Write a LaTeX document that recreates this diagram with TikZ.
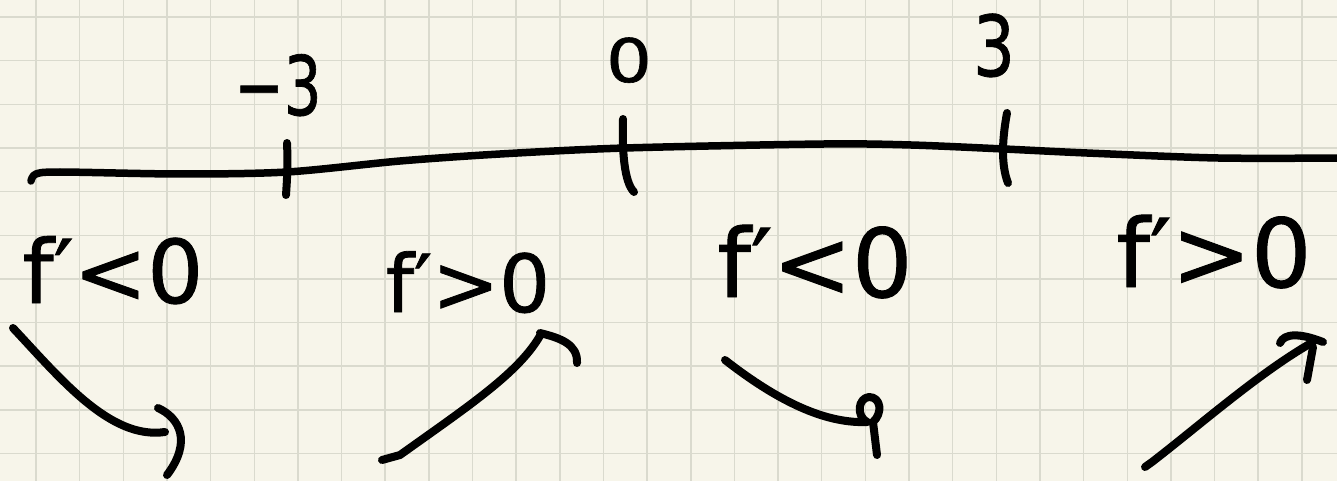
\documentclass[tikz,border=0pt]{standalone}
\usepackage{fontspec}
\setmainfont{DejaVu Sans}
\newfontfamily\handfont{DejaVu Sans}[FakeBold=1]
\definecolor{paper}{RGB}{247,245,234}
\definecolor{gridc}{RGB}{218,218,206}
\begin{document}
\begin{tikzpicture}[x=1pt,y=-1pt,
  gridline/.style={draw=gridc,line width=1.5pt},
  ink/.style={draw=black,line width=8pt,line cap=round,line join=round},
  axisline/.style={ink,line width=7.5pt},
  lbl/.style={inner sep=0pt,anchor=base,text=black}]
\fill[paper] (0,0) rectangle (1337,481);
\useasboundingbox (0,0) rectangle (1337,481);
\foreach \i in {0,...,29} \draw[gridline] ({36+43.65*\i},0) -- ({36+43.65*\i},481);
\foreach \j in {0,...,10} \draw[gridline] (0,{17+43.65*\j}) -- (1337,{17+43.65*\j});
% number line
\draw[axisline] plot[smooth,tension=0.5] coordinates {(31,181) (36,174) (60,172) (180,174) (287,172) (400,161) (500,154) (625,148) (824,144) (911,145) (1004,149) (1087,153) (1218,158) (1340,158)};
% ticks
\draw[ink] (287,143) .. controls (288,165) and (287,180) .. (286,195);
\draw[ink] (623,119) .. controls (622,150) and (624,182) .. (634,192);
\draw[ink] (1007,113) .. controls (1002,140) and (1001,165) .. (1008,183);
% tick labels
\node[lbl,font=\handfont\fontsize{82}{86}\selectfont,xscale=0.72] (m3) at (278,115) {−3};
\node[lbl,font=\handfont\fontsize{60}{64}\selectfont,xscale=1.2] (z0) at (629,82) {0};
\node[lbl,font=\handfont\fontsize{84}{88}\selectfont,xscale=0.78] (p3) at (994,76) {3};
% sign labels
\node[lbl,font=\handfont\fontsize{88}{94}\selectfont] (l1) at (113,303) {f′<0};
\node[lbl,font=\handfont\fontsize{80}{84}\selectfont] (l2) at (468,312) {f′>0};
\node[lbl,font=\handfont\fontsize{95}{100}\selectfont] (l3) at (815,297) {f′<0};
\node[lbl,font=\handfont\fontsize{95}{100}\selectfont] (l4) at (1214,287) {f′>0};
% arrow 1 (decreasing)
\draw[ink] (13,328) .. controls (60,378) and (110,440) .. (165,432);
\draw[ink] (158,408) .. controls (180,418) and (192,442) .. (167,475);
% arrow 2 (increasing)
\draw[ink] (382,460) -- (400,455) .. controls (470,405) and (520,372) .. (541,334);
\draw[ink] (540,333) .. controls (560,338) and (578,344) .. (577,363);
% arrow 3 (decreasing)
\draw[ink] (725,360) .. controls (770,395) and (820,424) .. (867,422);
\draw[ink] (867,422) .. controls (856,416) and (858,398) .. (869,397) .. controls (881,397) and (883,413) .. (873,422) -- (877,455);
% arrow 4 (increasing)
\draw[ink] (1145,467) -- (1152,462) .. controls (1200,425) and (1260,372) .. (1313,342);
\draw[ink] (1280,343) .. controls (1284,333) and (1300,333) .. (1323,342);
\draw[ink] (1313,347) -- (1307,380);
\end{tikzpicture}
\end{document}
